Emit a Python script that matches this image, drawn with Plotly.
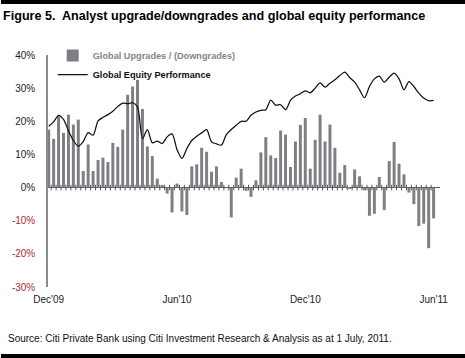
import plotly.graph_objects as go

# Weekly observations, Dec'09 (week 0) to Jun'11 (week 78)
weeks = list(range(79))

upgrades = [17.5, 14.7, 21.5, 16.5, 22, 19, 20.5, 5, 13, 5,
            8.3, 9, 7.7, 13.5, 12.3, 17.5, 28, 30.5, 32.5, 23.7,
            12.4, 9.5, 2.7, 0.8, -1.8, -7.5, 1.2, -7.2, -8.3, 6.4,
            7, 12, 10.8, 4.8, 6.4, 1.7, 0, -9, 3, 5.7,
            -1, -2.8, 2.2, 10.6, 15.2, 9.7, 8.9, 17.2, 16, 6.2,
            13.9, 18.9, 21, 5.7, 14.4, 22, 13.9, 19, 12, 4.5,
            6.8, -0.3, 5.5, 3.4, -0.8, -8.5, -7.9, 3.2, -6.8, 8,
            13.8, 7.2, 4, -1.5, -5, -11.6, -10.9, -18.3, -9.3]

equity = [18.5, 19.8, 21.8, 20.6, 17.2, 14.2, 12.5, 13.9, 16.6, 15.8,
          20.1, 21.2, 22, 23, 24.5, 25.5, 25.3, 25.6, 24.3, 14.8,
          17.5, 13.5, 14, 13.3, 15.3, 16.2, 11.5, 8.8, 11.8, 14.2,
          15.5, 16.5, 17.5, 13.8, 13.2, 12.8, 16, 17.5, 18.8, 20,
          20, 21.8, 22.8, 23.3, 23.5, 26.4, 24.9, 25, 23.5, 26.3,
          27.6, 28.3, 29.2, 28.6, 30, 31.6, 30.3, 31.5, 32.5, 33.8,
          34.8, 33.2, 31.8, 29.5, 27.1, 30.5, 32.8, 33.6, 31.8, 33.3,
          34.5, 32.8, 29.5, 32, 30.5, 28.5, 27, 26.2, 26.3]

x_tickvals = [0, 26, 52, 78]
x_ticktext = ["Dec'09", "Jun'10", "Dec'10", "Jun'11"]
y_tickvals = [40, 30, 20, 10, 0, -10, -20, -30]
y_ticktext = ["40%", "30%", "20%", "10%", "0%",
              "<span style='color:#b0283a'>-10%</span>",
              "<span style='color:#b0283a'>-20%</span>",
              "<span style='color:#b0283a'>-30%</span>"]

FONT = "Liberation Sans, Arial, sans-serif"

fig = go.Figure()
fig.add_trace(go.Bar(
    x=weeks, y=upgrades,
    name="<span style='color:#858585'><b>Global Upgrades / (Downgrades)</b></span>",
    marker=dict(color="#7e7f83", line=dict(width=0)), width=0.6,
))
# small tick marks along the zero line between bars
fig.add_trace(go.Scatter(
    x=[w + 0.5 for w in weeks[:-1]], y=[0] * (len(weeks) - 1), mode="markers",
    marker=dict(symbol="line-ns", size=4, line=dict(width=1, color="#555")),
    showlegend=False, hoverinfo="skip",
))
fig.add_trace(go.Scatter(
    x=weeks, y=equity, name="<b>Global Equity Performance</b>", mode="lines",
    line=dict(color="#111", width=1.25, shape="spline", smoothing=0.8),
))

fig.update_layout(
    width=465, height=358,
    margin=dict(l=45, r=25, t=55, b=71),
    paper_bgcolor="white", plot_bgcolor="white",
    font=dict(family=FONT, size=10, color="#222"),
    bargap=0.4,
    title=dict(text="<b>Figure 5.  Analyst upgrade/downgrades and global equity performance</b>",
               x=3 / 465, xanchor="left", y=1 - 16 / 358, yanchor="middle",
               font=dict(family=FONT, size=12.6, color="#000")),
    legend=dict(x=0.012, y=1.06, xanchor="left", yanchor="top",
                bgcolor="rgba(0,0,0,0)", font=dict(family=FONT, size=9.2, color="#111"),
                tracegroupgap=0, itemwidth=30),
    xaxis=dict(range=[-0.14, 79.3], tickvals=x_tickvals, ticktext=x_ticktext,
               showgrid=False, zeroline=False, showline=False, ticks="",
               ticklabelstandoff=5, tickfont=dict(size=10, color="#222")),
    yaxis=dict(range=[-30, 40], tickvals=y_tickvals, ticktext=y_ticktext,
               showgrid=False, zeroline=True, zerolinecolor="#555", zerolinewidth=1,
               showline=True, linecolor="#8c8c8c", linewidth=1.5, ticks="",
               ticklabelstandoff=9, tickfont=dict(size=10, color="#222")),
    showlegend=True,
    annotations=[dict(text="Source: Citi Private Bank using Citi Investment Research & Analysis as at 1 July, 2011.",
                      xref="paper", yref="paper", x=(3 - 45) / 395, y=(287 - 338) / 232,
                      xanchor="left", yanchor="middle", showarrow=False,
                      font=dict(family=FONT, size=10, color="#111"))],
    shapes=[
        dict(type="rect", xref="paper", yref="paper", x0=-0.12, x1=1.07,
             y0=(287 - 4) / 232, y1=(287 + 3) / 232, fillcolor="#000",
             line=dict(width=0), layer="above"),
        dict(type="rect", xref="paper", yref="paper", x0=-0.12, x1=1.07,
             y0=(287 - 360) / 232, y1=(287 - 354) / 232, fillcolor="#000",
             line=dict(width=0), layer="above"),
    ],
)

fig.write_html("out.html", config={"displayModeBar": False},
               post_script="document.body.style.margin='0';document.body.style.overflow='hidden';")
